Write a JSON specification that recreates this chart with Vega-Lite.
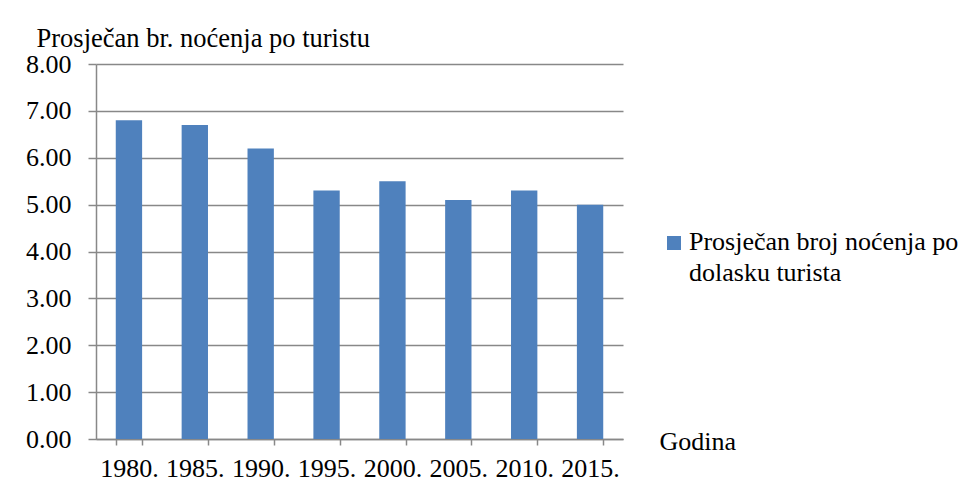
{
  "$schema": "https://vega.github.io/schema/vega-lite/v6.json",
  "width": 527,
  "height": 375,
  "autosize": "none",
  "padding": {"left": 96, "top": 64, "right": 353, "bottom": 56},
  "background": "white",
  "config": {
    "font": "Liberation Serif",
    "view": {"stroke": null},
    "style": {
      "guide-label": {"font": "Liberation Serif"},
      "guide-title": {"font": "Liberation Serif"}
    },
    "axis": {
      "labelFont": "Liberation Serif",
      "titleFont": "Liberation Serif",
      "labelColor": "black",
      "titleColor": "black",
      "titleFontWeight": "normal",
      "domainColor": "#888888",
      "tickColor": "#888888",
      "gridColor": "#888888",
      "domainWidth": 1.5,
      "tickWidth": 1.5,
      "gridWidth": 1.5
    },
    "legend": {"labelFont": "Liberation Serif"}
  },
  "data": {
    "values": [
      {"godina": "1980.", "vrijednost": 6.8},
      {"godina": "1985.", "vrijednost": 6.7},
      {"godina": "1990.", "vrijednost": 6.2},
      {"godina": "1995.", "vrijednost": 5.3},
      {"godina": "2000.", "vrijednost": 5.5},
      {"godina": "2005.", "vrijednost": 5.1},
      {"godina": "2010.", "vrijednost": 5.3},
      {"godina": "2015.", "vrijednost": 5.0}
    ]
  },
  "mark": {"type": "bar"},
  "encoding": {
    "x": {
      "field": "godina",
      "type": "ordinal",
      "sort": null,
      "scale": {"paddingInner": 0.6, "paddingOuter": 0.3},
      "axis": {
        "title": "Godina",
        "titleFont": "Liberation Serif",
        "labelFont": "Liberation Serif",
        "titleFontSize": 26,
        "titleAlign": "left",
        "titleBaseline": "alphabetic",
        "titleX": 563,
        "titleY": 10,
        "labelAngle": 0,
        "labelFontSize": 26,
        "labelPadding": 10,
        "tickSize": 6,
        "tickBand": "extent",
        "grid": false
      }
    },
    "y": {
      "field": "vrijednost",
      "type": "quantitative",
      "scale": {"domain": [0, 8], "nice": false},
      "axis": {
        "title": "Prosječan br. noćenja po turistu",
        "titleFont": "Liberation Serif",
        "labelFont": "Liberation Serif",
        "titleFontSize": 26.5,
        "titleAngle": 0,
        "titleAlign": "left",
        "titleBaseline": "alphabetic",
        "titleX": -60,
        "titleY": -18,
        "values": [0, 1, 2, 3, 4, 5, 6, 7, 8],
        "format": ".2f",
        "labelFontSize": 26,
        "labelPadding": 17,
        "tickSize": 8,
        "grid": true
      }
    },
    "color": {
      "datum": "Prosječan broj noćenja po dolasku turista",
      "type": "nominal",
      "scale": {"range": ["#4F81BD"]},
      "legend": {
        "title": null,
        "orient": "none",
        "legendX": 565,
        "legendY": 166,
        "symbolType": "square",
        "symbolSize": 196,
        "symbolStrokeWidth": 0,
        "labelFont": "Liberation Serif",
        "labelFontSize": 26,
        "labelColor": "black",
        "labelOffset": 2,
        "labelLimit": 0,
        "labelBaseline": "top",
        "labelExpr": "['Prosječan broj noćenja po', 'dolasku turista']",
        "padding": 0,
        "encode": {"labels": {"update": {"lineHeight": {"value": 31}, "dy": {"value": -14}, "font": {"value": "Liberation Serif"}}}}
      }
    }
  }
}
